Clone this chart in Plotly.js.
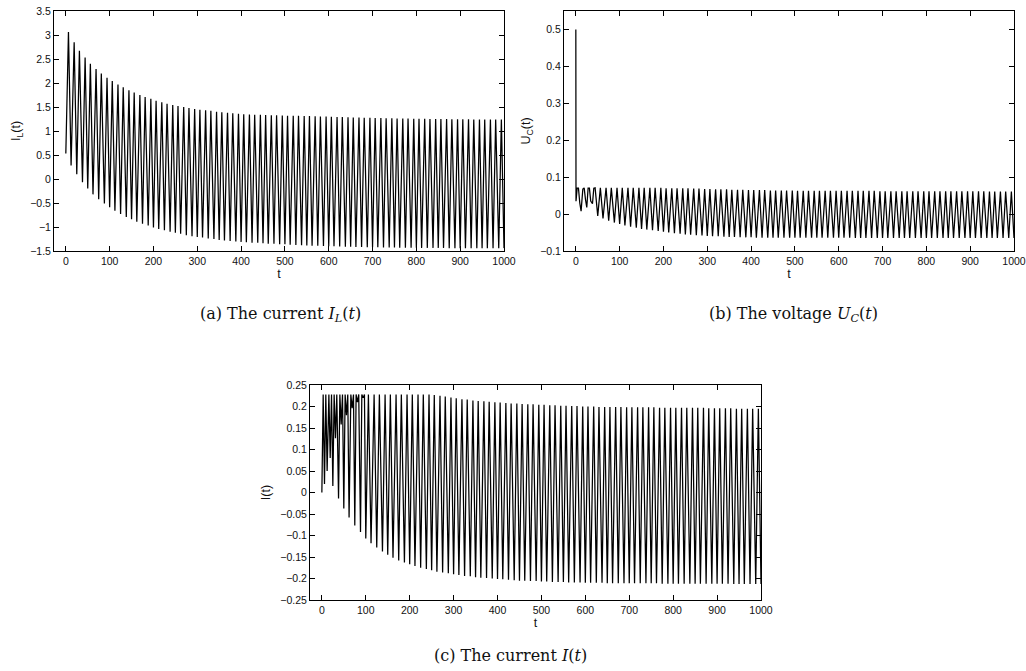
<!DOCTYPE html>
<html><head><meta charset="utf-8">
<script src="https://cdn.plot.ly/plotly-3.0.1.min.js"></script>
<style>html,body{margin:0;padding:0;background:#fff}#chart{width:1026px;height:671px}</style>
</head><body><div id="chart"></div>
<script>
// shared extremum times (period ~12.5)
const peakT = [6,19,31,44,56,69,81,94,106,119,
131,144,156,169,181,194,206,219,231,244,
256,269,281,294,306,319,331,344,356,369,
381,394,406,419,431,444,456,469,481,494,
506,519,531,544,556,569,581,594,606,619,
631,644,656,669,681,694,706,719,731,744,
756,769,781,794,806,819,831,844,856,869,
881,894,906,919,931,944,956,969,981,994];
const troughT = [12,25,38,50,62,75,88,100,112,125,
138,150,162,175,188,200,212,225,238,250,
262,275,288,300,312,325,338,350,362,375,
388,400,412,425,438,450,462,475,488,500,
512,525,538,550,562,575,588,600,612,625,
638,650,662,675,688,700,712,725,738,750,
762,775,788,800,812,825,838,850,862,875,
888,900,912,925,938,950,962,975,988,1000];

// (a) I_L(t)
const ilStartT = [0];
const ilStartY = [0.53];
const ilPeaks = [3.06,2.85,2.67,2.53,2.40,2.29,2.20,2.11,2.04,1.97,
1.91,1.85,1.80,1.75,1.71,1.67,1.63,1.60,1.57,1.54,
1.52,1.50,1.48,1.46,1.44,1.43,1.42,1.40,1.39,1.38,
1.37,1.36,1.35,1.345,1.34,1.34,1.335,1.33,1.33,1.325,
1.32,1.32,1.315,1.31,1.31,1.305,1.30,1.30,1.295,1.29,
1.29,1.285,1.28,1.28,1.275,1.275,1.27,1.27,1.265,1.265,
1.26,1.26,1.26,1.255,1.255,1.255,1.25,1.25,1.25,1.25,
1.245,1.245,1.245,1.245,1.24,1.24,1.24,1.24,1.24,1.24];
const ilTroughs = [0.28,0.10,-0.07,-0.20,-0.32,-0.42,-0.51,-0.59,-0.66,-0.73,
-0.79,-0.84,-0.89,-0.93,-0.97,-1.01,-1.04,-1.07,-1.10,-1.12,
-1.14,-1.17,-1.19,-1.21,-1.22,-1.24,-1.25,-1.27,-1.28,-1.29,
-1.30,-1.31,-1.32,-1.33,-1.33,-1.34,-1.35,-1.35,-1.36,-1.36,
-1.37,-1.375,-1.38,-1.385,-1.39,-1.39,-1.395,-1.40,-1.40,-1.405,
-1.41,-1.41,-1.415,-1.415,-1.42,-1.42,-1.42,-1.425,-1.425,-1.425,
-1.43,-1.43,-1.43,-1.43,-1.435,-1.435,-1.435,-1.435,-1.435,-1.44,
-1.44,-1.44,-1.44,-1.44,-1.44,-1.44,-1.44,-1.44,-1.44,-1.44];

// (b) U_C(t)
const ucStartT = [0,0.4,3,9,16,22,28,34,41];
const ucStartY = [0.5,0.035,0.07,0.03,0.068,0.04,0.07,0.035,0.07];
const ucPeaks = [0.070,0.071,0.070,0.071,0.071,0.071,0.071,0.071,0.071,0.071,
0.071,0.071,0.071,0.071,0.071,0.071,0.070,0.070,0.070,0.070,
0.070,0.069,0.069,0.068,0.068,0.067,0.067,0.067,0.066,0.066,
0.066,0.065,0.065,0.065,0.065,0.064,0.064,0.064,0.064,0.064,
0.063,0.063,0.063,0.063,0.063,0.063,0.063,0.063,0.063,0.063,
0.063,0.063,0.063,0.063,0.063,0.062,0.062,0.062,0.062,0.062,
0.062,0.062,0.062,0.062,0.062,0.062,0.062,0.062,0.062,0.062,
0.062,0.062,0.062,0.062,0.062,0.061,0.061,0.061,0.061,0.061];
const ucTroughs = [0.008,0.018,0.028,-0.005,-0.012,-0.018,-0.023,-0.027,-0.031,-0.034,
-0.037,-0.040,-0.042,-0.044,-0.046,-0.048,-0.050,-0.052,-0.053,-0.055,
-0.056,-0.057,-0.058,-0.059,-0.060,-0.060,-0.061,-0.062,-0.062,-0.063,
-0.063,-0.063,-0.064,-0.064,-0.064,-0.064,-0.064,-0.064,-0.064,-0.064,
-0.064,-0.064,-0.064,-0.064,-0.064,-0.064,-0.064,-0.064,-0.064,-0.064,
-0.065,-0.065,-0.065,-0.065,-0.065,-0.065,-0.065,-0.065,-0.065,-0.065,
-0.065,-0.065,-0.065,-0.065,-0.065,-0.065,-0.065,-0.065,-0.065,-0.065,
-0.065,-0.065,-0.065,-0.065,-0.065,-0.065,-0.065,-0.065,-0.065,-0.065];

// (c) I(t)
const iStartT = [0,3,9,16,22,28,34,41,47,53,59,66,72,78,84,91,97];
const iStartY = [0,0.228,0.228,0.228,0.228,0.228,0.228,0.228,0.228,0.228,0.228,0.228,0.228,0.228,0.228,0.228,0.228];
const iPeaks = [0.020,0.080,0.126,0.158,0.180,0.196,0.210,0.220,0.228,0.228,
0.228,0.228,0.228,0.228,0.228,0.228,0.228,0.228,0.228,0.228,
0.227,0.225,0.223,0.221,0.219,0.217,0.216,0.214,0.213,0.212,
0.211,0.210,0.209,0.208,0.207,0.207,0.206,0.205,0.205,0.204,
0.204,0.203,0.203,0.202,0.202,0.201,0.201,0.200,0.200,0.200,
0.199,0.199,0.199,0.199,0.199,0.198,0.198,0.198,0.198,0.198,
0.198,0.197,0.197,0.197,0.197,0.197,0.197,0.197,0.197,0.197,
0.196,0.196,0.196,0.196,0.196,0.195,0.195,0.195,0.195,0.195];
const iTroughs = [0.050,0.015,-0.014,-0.037,-0.058,-0.077,-0.092,-0.107,-0.118,-0.128,
-0.137,-0.145,-0.152,-0.158,-0.163,-0.167,-0.171,-0.175,-0.178,-0.181,
-0.184,-0.186,-0.188,-0.190,-0.192,-0.194,-0.195,-0.197,-0.198,-0.199,
-0.200,-0.201,-0.202,-0.203,-0.204,-0.205,-0.205,-0.206,-0.206,-0.207,
-0.207,-0.208,-0.208,-0.208,-0.209,-0.209,-0.209,-0.210,-0.210,-0.210,
-0.210,-0.211,-0.211,-0.211,-0.211,-0.211,-0.211,-0.211,-0.211,-0.211,
-0.211,-0.212,-0.212,-0.212,-0.212,-0.212,-0.212,-0.212,-0.212,-0.212,
-0.212,-0.212,-0.212,-0.212,-0.213,-0.213,-0.213,-0.213,-0.213,-0.213];

const xTicks = [0,100,200,300,400,500,600,700,800,900,1000];

function build(st, sy, pk, tr){
  const pts = [];
  st.forEach((t,i)=>pts.push([t, sy[i]]));
  peakT.forEach((t,i)=>pts.push([t, pk[i]]));
  troughT.forEach((t,i)=>pts.push([t, tr[i]]));
  pts.sort((a,b)=>a[0]-b[0]);
  return {x: pts.map(p=>p[0]), y: pts.map(p=>p[1])};
}

const A = build(ilStartT, ilStartY, ilPeaks, ilTroughs);
const B = build(ucStartT, ucStartY, ucPeaks, ucTroughs);
const C = build(iStartT, iStartY, iPeaks, iTroughs);

const line = {color:'#000', width:1.25};
const traces = [
  {x:A.x, y:A.y, xaxis:'x', yaxis:'y', type:'scatter', mode:'lines', line},
  {x:B.x, y:B.y, xaxis:'x2', yaxis:'y2', type:'scatter', mode:'lines', line},
  {x:C.x, y:C.y, xaxis:'x3', yaxis:'y3', type:'scatter', mode:'lines', line}
];

const W = 1026, H = 671;
const tickFont = {family:'Liberation Sans, Arial, sans-serif', size:10.5, color:'#111'};
const titleFont = {family:'Liberation Sans, Arial, sans-serif', size:12.5, color:'#111'};
function xa(l, r, anchor){
  return {domain:[l/W, r/W], anchor, range:[-27,1000], tickvals:xTicks, ticktext:xTicks.map(String),
    ticks:'inside', ticklen:5, tickwidth:1, tickcolor:'#000', mirror:'ticks', showline:true, linecolor:'#000', linewidth:1,
    showgrid:false, zeroline:false, tickfont:tickFont, title:{text:'t', font:titleFont, standoff:2}};
}
function ya(t, b, anchor, range, dtick, title){
  return {domain:[1-b/H, 1-t/H], anchor, range, dtick, tick0:range[0],
    ticks:'inside', ticklen:5, tickwidth:1, tickcolor:'#000', mirror:'ticks', showline:true, linecolor:'#000', linewidth:1,
    showgrid:false, zeroline:false, tickfont:tickFont, title:{text:title, font:titleFont, standoff:6}};
}
const capFont = {family:'DejaVu Serif, Liberation Serif, serif', size:16, color:'#111'};
const layout = {
  width:W, height:H, margin:{l:0,r:0,t:0,b:0}, showlegend:false,
  paper_bgcolor:'#fff', plot_bgcolor:'#fff',
  xaxis: xa(54, 504, 'y'),
  yaxis: ya(11, 251, 'x', [-1.5,3.5], 0.5, 'I<sub>L</sub>(t)'),
  xaxis2: xa(564, 1014, 'y2'),
  yaxis2: ya(11, 251, 'x2', [-0.1,0.55], 0.1, 'U<sub>C</sub>(t)'),
  xaxis3: xa(310, 761, 'y3'),
  yaxis3: ya(385, 600, 'x3', [-0.25,0.25], 0.05, 'I(t)'),
  annotations: [
    {text:'(a) The current <i>I<sub>L</sub></i>(<i>t</i>)', x:280/W, y:1-314/H, xref:'paper', yref:'paper', showarrow:false, font:capFont, xanchor:'center', yanchor:'middle'},
    {text:'(b) The voltage <i>U<sub>C</sub></i>(<i>t</i>)', x:793/W, y:1-314/H, xref:'paper', yref:'paper', showarrow:false, font:capFont, xanchor:'center', yanchor:'middle'},
    {text:'(c) The current <i>I</i>(<i>t</i>)', x:510/W, y:1-655/H, xref:'paper', yref:'paper', showarrow:false, font:capFont, xanchor:'center', yanchor:'middle'}
  ]
};
Plotly.newPlot('chart', traces, layout, {staticPlot:true, displayModeBar:false});
</script></body></html>
